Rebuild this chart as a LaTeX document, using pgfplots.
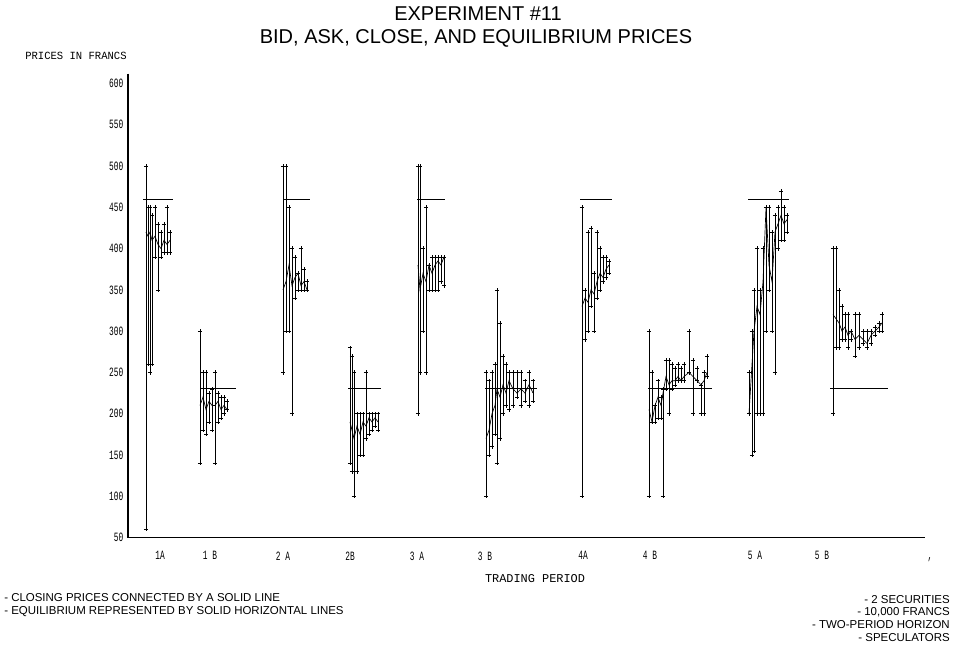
\documentclass[border=0pt]{standalone}
\usepackage{pgfplots}
\pgfplotsset{compat=1.18}
\usepackage{pgfplotstable}
\usepackage{graphicx}
\usepackage{fontspec}
\setmainfont{Liberation Sans}
\newfontfamily\dotfont[FakeStretch=0.62]{Liberation Mono}

\pgfplotstableread{
x lo hi c
146 60 500 420
148 260 450 415
150 250 450 420
152 260 440 410
155 390 450 415
158 350 430 405
161 390 420 400
164 395 430 410
167 395 450 405
170 395 420 410
}\tAa
\pgfplotstableread{
x lo hi c
200 140 300 210
203 180 250 220
206 175 250 205
209 190 225 215
212 180 230 210
215 140 250 210
218 190 225 215
221 195 220 205
224 200 220 210
227 205 215 205
}\tAb
\pgfplotstableread{
x lo hi c
283 250 500 350
286 300 500 360
289 300 450 380
292 200 400 355
295 340 390 365
298 350 370 370
301 350 400 355
304 350 375 360
307 350 360 350
}\tBa
\pgfplotstableread{
x lo hi c
350 140 280 190
352 130 270 180
354 100 250 170
357 130 200 185
360 150 200 175
363 150 200 190
366 170 250 185
369 175 200 195
372 180 200 190
375 185 200 195
378 180 200 190
}\tBb
\pgfplotstableread{
x lo hi c
418 200 500 380
420 250 500 350
423 300 400 370
426 250 450 360
429 350 380 380
432 350 390 370
435 350 390 380
438 350 390 385
441 360 390 380
444 355 390 390
}\tCa
\pgfplotstableread{
x lo hi c
486 100 250 170
489 150 240 180
492 160 250 200
495 175 260 210
497 140 350 230
500 170 310 220
503 200 270 235
506 210 260 225
509 205 250 240
513 210 250 230
517 220 250 225
521 210 250 230
525 215 240 225
529 210 250 235
533 215 240 225
}\tCb
\pgfplotstableread{
x lo hi c
582 100 450 330
585 290 350 340
588 300 420 335
591 330 425 350
594 300 370 345
597 340 420 360
600 350 400 370
603 360 390 365
606 365 390 375
609 370 385 380
}\tDa
\pgfplotstableread{
x lo hi c
649 100 300 205
652 190 250 190
655 190 210 210
658 195 240 220
661 195 220 210
663 100 230 225
666 230 265 245
669 200 265 235
672 230 260 240
675 235 255 240
678 240 260 245
681 240 255 240
684 240 260 245
689 250 300 250
693 200 265 245
697 240 255 240
701 200 235 235
704 200 250 240
707 245 270 250
}\tDb
\pgfplotstableread{
x lo hi c
749 200 250 200
752 150 300 260
754 155 350 300
757 200 400 330
760 200 350 320
763 200 400 360
766 300 450 450
769 350 450 380
772 300 420 360
775 250 440 420
778 400 450 430
781 410 470 440
784 410 450 430
787 420 440 435
}\tEa
\pgfplotstableread{
x lo hi c
833 200 400 320
836 280 400 315
839 280 350 310
842 290 330 300
845 290 320 305
848 280 320 295
851 290 300 300
855 270 320 290
859 280 320 295
863 285 300 290
867 280 300 285
871 285 300 295
875 295 305 300
879 300 310 305
882 300 320 310
}\tEb

\newcommand\period[4]{%
  \addplot[only marks, mark=+, mark size=1.6pt, black,
    error bars/.cd, y dir=plus, y explicit, error mark=+,
    error bar style={line width=0.5pt, black},
    error mark options={black, mark size=1.6pt}]
    table[x=x, y=lo, y error expr=\thisrow{hi}-\thisrow{lo}] {#1};
  \addplot[black, line width=0.5pt, no marks] table[x=x, y=c] {#1};
  \addplot[black, line width=0.7pt, no marks] coordinates {(#2,#4) (#3,#4)};
}

\begin{document}
\begin{tikzpicture}[x=0.75pt,y=0.75pt]
\path[use as bounding box] (0,0) rectangle (959,649);
\begin{axis}[
  at={(128,135)}, anchor=south west,
  scale only axis, width=597.75pt, height=348pt,
  xmin=128, xmax=925, ymin=50, ymax=612,
  axis line style={draw=none},
  major tick length=0pt,
  ytick={50,100,...,600},
  xtick={160,210,283,350,417,485,583,650,755,822},
  xticklabels={1A,1 B,2 A,2B,3 A,3 B,4A,4 B,5 A,5 B},
  ticklabel style={font=\dotfont\fontsize{9.5}{10}\selectfont},
  xticklabel style={yshift=-7pt},
  /pgf/number format/assume math mode=true,
  clip=false,
]
\draw[line width=1pt, black] (rel axis cs:0,1) -- (rel axis cs:0,0) -- (rel axis cs:1,0);
\period{\tAa}{143}{173}{460}
\period{\tAb}{200}{236}{230}
\period{\tBa}{283}{310}{460}
\period{\tBb}{348}{381}{230}
\period{\tCa}{417}{445}{460}
\period{\tCb}{485}{537}{230}
\period{\tDa}{580}{612}{460}
\period{\tDb}{648}{712}{230}
\period{\tEa}{748}{789}{460}
\period{\tEb}{830}{888}{230}
\end{axis}
\node[font=\dotfont\fontsize{9.5}{10}\selectfont] at (930,89) {,};
\node[font=\fontsize{15}{17}\selectfont] at (478,635) {EXPERIMENT \#11};
\node[font=\fontsize{15}{17}\selectfont] at (476,611) {BID, ASK, CLOSE, AND EQUILIBRIUM PRICES};
\node[anchor=west, inner sep=0pt] at (25,593) {\resizebox{76pt}{5.5pt}{\dotfont PRICES IN FRANCS}};
\node[inner sep=0pt] at (535,70) {\resizebox{75pt}{6pt}{\dotfont TRADING PERIOD}};
\node[anchor=west, inner sep=0pt, font=\fontsize{8.6}{9}\selectfont] at (4,51) {- CLOSING PRICES CONNECTED BY A SOLID LINE};
\node[anchor=west, inner sep=0pt, font=\fontsize{8.6}{9}\selectfont] at (4,37) {- EQUILIBRIUM REPRESENTED BY SOLID HORIZONTAL LINES};
\node[anchor=east, inner sep=0pt, font=\fontsize{8.6}{9}\selectfont] at (950,49) {- 2 SECURITIES};
\node[anchor=east, inner sep=0pt, font=\fontsize{8.6}{9}\selectfont] at (950,37) {- 10,000 FRANCS};
\node[anchor=east, inner sep=0pt, font=\fontsize{8.6}{9}\selectfont] at (950,24) {- TWO-PERIOD HORIZON};
\node[anchor=east, inner sep=0pt, font=\fontsize{8.6}{9}\selectfont] at (950,11) {- SPECULATORS};
\end{tikzpicture}
\end{document}
